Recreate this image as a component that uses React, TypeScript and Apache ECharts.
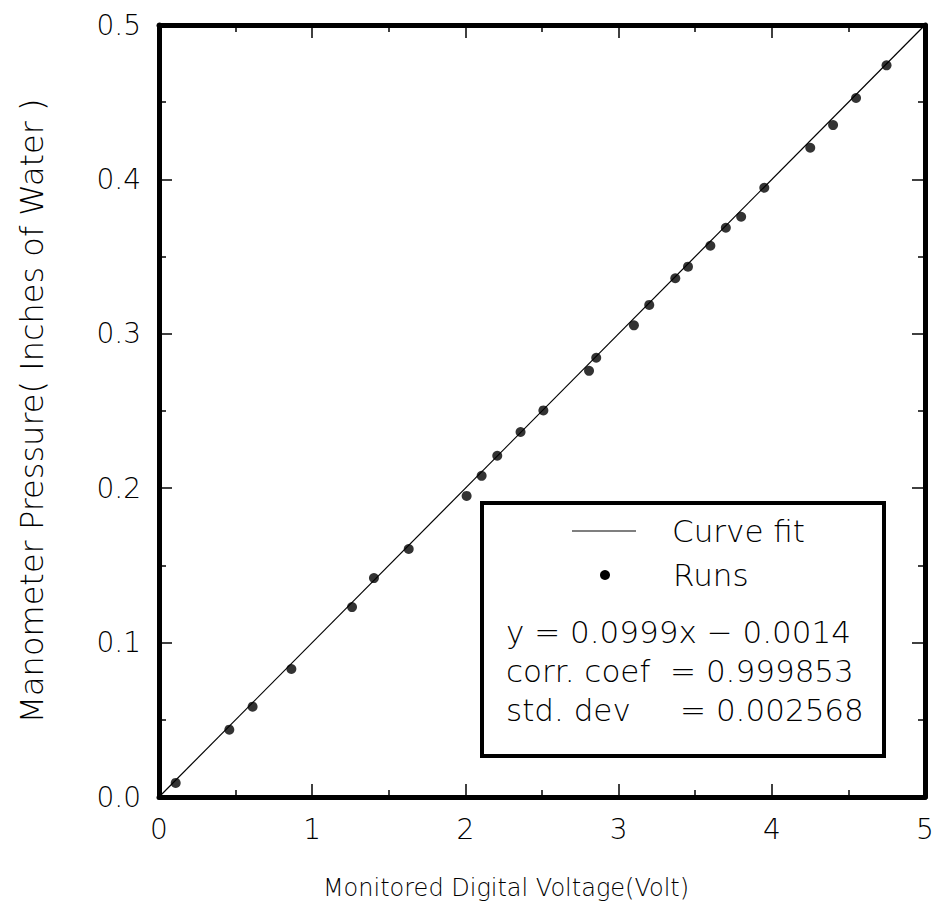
import React, { useEffect, useRef } from "react";
import * as echarts from "echarts";

const xTicks = [0, 1, 2, 3, 4, 5];
const yTicks = [0.0, 0.1, 0.2, 0.3, 0.4, 0.5];

const runsX = [0.109, 0.459, 0.611, 0.864, 1.26, 1.403, 1.63, 2.008, 2.106, 2.208, 2.36, 2.509, 2.807, 2.854, 3.1, 3.2, 3.37, 3.453, 3.599, 3.7, 3.8, 3.951, 4.251, 4.4, 4.55, 4.749];
const runsY = [0.0091, 0.0436, 0.0585, 0.0829, 0.123, 0.1418, 0.1606, 0.195, 0.208, 0.221, 0.2364, 0.2504, 0.276, 0.2845, 0.3055, 0.3187, 0.336, 0.3435, 0.357, 0.3687, 0.3758, 0.3946, 0.4205, 0.4352, 0.4527, 0.4739];

const fitX = [0, 5];
const fitY = [0, 0.5];

const legendLines = ["y = 0.0999x \u2212 0.0014", "corr. coef  = 0.999853", "std. dev     = 0.002568"];

const FONT = "'DejaVu Sans'";

export default function App() {
  const ref = useRef<HTMLDivElement>(null);
  useEffect(() => {
    const chart = echarts.init(ref.current!, null, { renderer: "svg" });
    const axisCommon = {
      axisLine: { show: true, onZero: false, lineStyle: { color: "#000", width: 5 } },
      axisTick: { show: true, inside: true, length: 13, lineStyle: { color: "#000", width: 1.5 } },
      minorTick: { show: true, splitNumber: 2, length: 7, lineStyle: { color: "#000", width: 1.5 } },
      splitLine: { show: false },
    };
    const labelStyle = { color: "#000", fontFamily: FONT, fontWeight: 200, fontSize: 28 };
    chart.setOption({
      animation: false,
      backgroundColor: "#fff",
      grid: { left: 159, top: 25, right: 14, bottom: 120, containLabel: false },
      xAxis: [
        {
          type: "value", min: 0, max: 5, interval: 1, position: "bottom",
          ...axisCommon,
          axisLabel: { ...labelStyle, margin: 18, formatter: (v: number) => (xTicks.includes(v) ? String(v) : "") },
          name: "Monitored Digital Voltage(Volt)", nameLocation: "middle", nameGap: 79,
          nameTextStyle: { color: "#000", fontFamily: FONT, fontWeight: 200, fontSize: 24, padding: [0, 72, 0, 0] },
        },
        {
          type: "value", min: 0, max: 5, interval: 1, position: "top",
          ...axisCommon, axisLabel: { show: false },
        },
      ],
      yAxis: [
        {
          type: "value", min: 0, max: 0.5, interval: 0.1, position: "left",
          ...axisCommon,
          axisLabel: { ...labelStyle, margin: 18, formatter: (v: number) => v.toFixed(1) },
          name: "Manometer Pressure( Inches of Water )", nameLocation: "middle", nameRotate: 90, nameGap: 111,
          nameTextStyle: { color: "#000", fontFamily: FONT, fontWeight: 200, fontSize: 32 },
        },
        {
          type: "value", min: 0, max: 0.5, interval: 0.1, position: "right",
          ...axisCommon, axisLabel: { show: false },
        },
      ],
      series: [
        {
          name: "Curve fit", type: "line", data: fitX.map((x, i) => [x, fitY[i]]),
          showSymbol: false, symbol: "none", lineStyle: { color: "#000", width: 1.2 }, z: 2,
        },
        {
          name: "Runs", type: "scatter", data: runsX.map((x, i) => [x, runsY[i]]),
          symbol: "circle", symbolSize: 10, itemStyle: { color: "#000" }, z: 3,
        },
      ],
      graphic: [
        {
          type: "rect", shape: { x: 482, y: 503, width: 402, height: 253 },
          style: { fill: "#fff", stroke: "#000", lineWidth: 4 }, z: 10,
        },
        { type: "line", shape: { x1: 572, y1: 531, x2: 636, y2: 531 }, style: { stroke: "#000", lineWidth: 1.2 }, z: 11 },
        { type: "text", x: 672, y: 531, style: { text: "Curve fit", fill: "#000", font: `200 31px ${FONT}`, verticalAlign: "middle" }, z: 11 },
        { type: "circle", shape: { cx: 605, cy: 575, r: 5 }, style: { fill: "#000" }, z: 11 },
        { type: "text", x: 673, y: 575, style: { text: "Runs", fill: "#000", font: `200 31px ${FONT}`, verticalAlign: "middle" }, z: 11 },
        ...legendLines.map((t, i) => ({
          type: "text", x: 506, y: 632 + i * 39,
          style: { text: t, fill: "#000", font: `200 31px ${FONT}`, verticalAlign: "middle", whiteSpace: "pre" },
          z: 11,
        })),
      ],
    });
    return () => chart.dispose();
  }, []);
  return <div ref={ref} style={{ position: "absolute", left: 0, top: 0, width: 939, height: 917 }} />;
}
